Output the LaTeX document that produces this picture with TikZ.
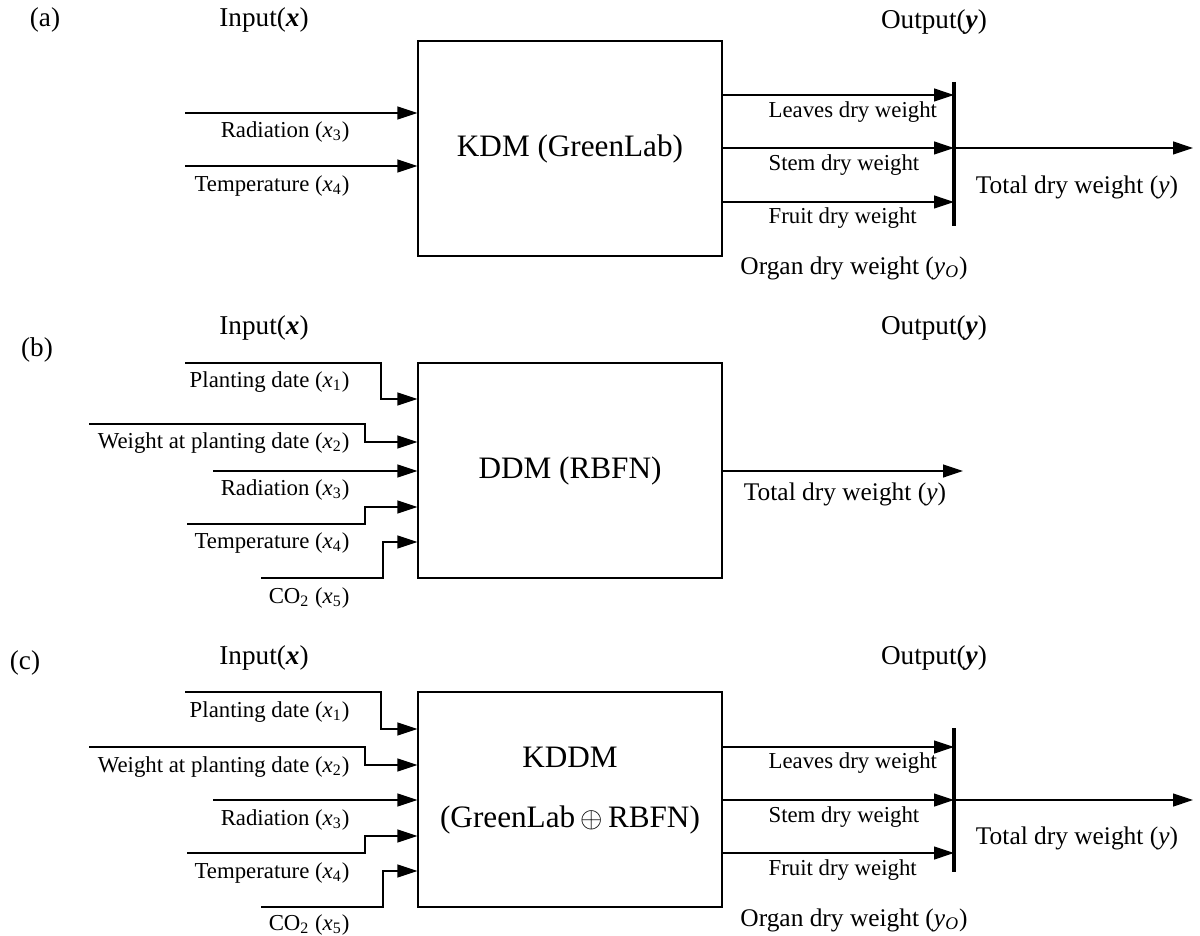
\documentclass[tikz,border=0pt]{standalone}
\usepackage{fontspec}
\setmainfont{Liberation Serif}
\usepackage{tikz}
\usetikzlibrary{arrows.meta,positioning}

\begin{document}
\begin{tikzpicture}[x=0.5pt,y=-0.5pt,line width=0.6pt,>={Triangle[length=10pt,width=6.5pt]},
  block node/.style={draw,minimum width=152pt,minimum height=107.5pt,inner sep=0pt,font=\fontsize{15.6}{30}\selectfont,align=center},
  in node/.style={anchor=east,inner sep=0pt,font=\fontsize{11.4}{13}\selectfont},
  out node/.style={anchor=west,inner sep=0pt,font=\fontsize{11.4}{13}\selectfont},
  head node/.style={inner sep=0pt,font=\fontsize{13.6}{16}\selectfont},
  sum node/.style={inner sep=0pt,font=\fontsize{12.7}{15}\selectfont},
  bar/.style={line width=1.8pt}]
  \useasboundingbox (0,0) rectangle (1200,936);

  % (a) KDM
  \node[head node] (a tag) at (45,20) {(a)};
  \node[head node] (a in) at (264,20) {Input(\textbf{\textit{x}})};
  \node[head node] (a out) at (934,22) {Output(\textbf{\textit{y}})};
  \node[block node] (a box) at (570,148.5) {KDM (GreenLab)};
  \coordinate (a x3) at (185,113);
  \coordinate (a x4) at (185,166);
  \draw[->] (a x3) -- (a x3 -| a box.west);
  \draw[->] (a x4) -- (a x4 -| a box.west);
  \node[in node] (a l3) at (350,132) {Radiation (\textit{x}\textsubscript{3})};
  \node[in node] (a l4) at (350,186) {Temperature (\textit{x}\textsubscript{4})};
  \coordinate (a top) at (954,82);
  \coordinate (a bot) at (954,226);
  \coordinate (a y1) at (954,95);
  \coordinate (a y2) at (954,148);
  \coordinate (a y3) at (954,202);
  \coordinate (a end) at (1193,148);
  \draw[bar] (a top) -- (a bot);
  \draw[->] (a y1 -| a box.east) -- (a y1);
  \draw[->] (a y2 -| a box.east) -- (a y2);
  \draw[->] (a y3 -| a box.east) -- (a y3);
  \draw[->] (a y2) -- (a end);
  \node[out node] (a o1) at (768,112) {Leaves dry weight};
  \node[out node] (a o2) at (768,165) {Stem dry weight};
  \node[out node] (a o3) at (768,218) {Fruit dry weight};
  \node[sum node] (a total) at (1077,187) {Total dry weight (\textit{y})};
  \node[sum node] (a organ) at (854,268) {Organ dry weight (\textit{y}\textsubscript{\textit{O}})};

  % (b) DDM
  \node[head node] (b tag) at (37,350) {(b)};
  \node[head node] (b in) at (264,328) {Input(\textbf{\textit{x}})};
  \node[head node] (b out) at (934,328) {Output(\textbf{\textit{y}})};
  \node[block node] (b box) at (570,470.5) {DDM (RBFN)};
  \coordinate (b x1) at (185,363);  \coordinate (b p1) at (381,399);
  \coordinate (b x2) at (89,424);   \coordinate (b p2) at (365,442);
  \coordinate (b x3) at (213,471);
  \coordinate (b x4) at (187,524);  \coordinate (b p4) at (365,507);
  \coordinate (b x5) at (261,578);  \coordinate (b p5) at (383,542);
  \draw[->] (b x1) -| (b p1) -- (b p1 -| b box.west);
  \draw[->] (b x2) -| (b p2) -- (b p2 -| b box.west);
  \draw[->] (b x3) -- (b x3 -| b box.west);
  \draw[->] (b x4) -| (b p4) -- (b p4 -| b box.west);
  \draw[->] (b x5) -| (b p5) -- (b p5 -| b box.west);
  \node[in node] (b l1) at (350,382) {Planting date (\textit{x}\textsubscript{1})};
  \node[in node] (b l2) at (350,443) {Weight at planting date (\textit{x}\textsubscript{2})};
  \node[in node] (b l3) at (350,490) {Radiation (\textit{x}\textsubscript{3})};
  \node[in node] (b l4) at (350,543) {Temperature (\textit{x}\textsubscript{4})};
  \node[in node] (b l5) at (350,598) {CO\textsubscript{2} (\textit{x}\textsubscript{5})};
  \coordinate (b y) at (963,471);
  \draw[->] (b y -| b box.east) -- (b y);
  \node[sum node] (b total) at (845,494) {Total dry weight (\textit{y})};

  % (c) KDDM
  \node[head node] (c tag) at (25,663) {(c)};
  \node[head node] (c in) at (264,658) {Input(\textbf{\textit{x}})};
  \node[head node] (c out) at (934,658) {Output(\textbf{\textit{y}})};
  \node[block node] (c box) at (570,799.5) {};
  \node[head node,font=\fontsize{15.6}{30}\selectfont,align=center] (c name) at (570,791) {KDDM\\(GreenLab\,$\oplus$\,RBFN)};
  \coordinate (c x1) at (185,692);  \coordinate (c p1) at (381,729);
  \coordinate (c x2) at (89,747);   \coordinate (c p2) at (365,765);
  \coordinate (c x3) at (213,800);
  \coordinate (c x4) at (187,853);  \coordinate (c p4) at (365,836);
  \coordinate (c x5) at (261,907);  \coordinate (c p5) at (383,871);
  \draw[->] (c x1) -| (c p1) -- (c p1 -| c box.west);
  \draw[->] (c x2) -| (c p2) -- (c p2 -| c box.west);
  \draw[->] (c x3) -- (c x3 -| c box.west);
  \draw[->] (c x4) -| (c p4) -- (c p4 -| c box.west);
  \draw[->] (c x5) -| (c p5) -- (c p5 -| c box.west);
  \node[in node] (c l1) at (350,712) {Planting date (\textit{x}\textsubscript{1})};
  \node[in node] (c l2) at (350,767) {Weight at planting date (\textit{x}\textsubscript{2})};
  \node[in node] (c l3) at (350,820) {Radiation (\textit{x}\textsubscript{3})};
  \node[in node] (c l4) at (350,873) {Temperature (\textit{x}\textsubscript{4})};
  \node[in node] (c l5) at (350,925) {CO\textsubscript{2} (\textit{x}\textsubscript{5})};
  \coordinate (c top) at (954,728);
  \coordinate (c bot) at (954,872);
  \coordinate (c y1) at (954,747);
  \coordinate (c y2) at (954,800);
  \coordinate (c y3) at (954,853);
  \coordinate (c end) at (1193,800);
  \draw[bar] (c top) -- (c bot);
  \draw[->] (c y1 -| c box.east) -- (c y1);
  \draw[->] (c y2 -| c box.east) -- (c y2);
  \draw[->] (c y3 -| c box.east) -- (c y3);
  \draw[->] (c y2) -- (c end);
  \node[out node] (c o1) at (768,763) {Leaves dry weight};
  \node[out node] (c o2) at (768,817) {Stem dry weight};
  \node[out node] (c o3) at (768,870) {Fruit dry weight};
  \node[sum node] (c total) at (1077,838) {Total dry weight (\textit{y})};
  \node[sum node] (c organ) at (854,920) {Organ dry weight (\textit{y}\textsubscript{\textit{O}})};
\end{tikzpicture}
\end{document}
